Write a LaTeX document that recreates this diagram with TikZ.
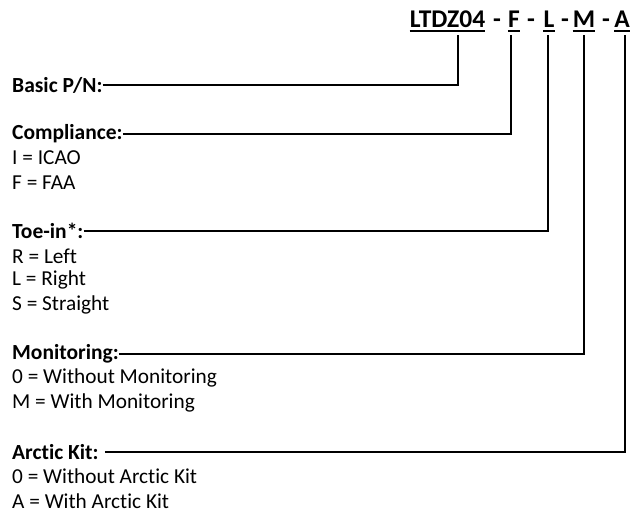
\documentclass[tikz,border=0pt]{standalone}
\usepackage{fontspec}
\setmainfont[Ligatures=NoCommon]{Carlito}
\usepackage{tikz}
\usetikzlibrary{positioning}

\begin{document}
\begin{tikzpicture}[x=1pt,y=-1pt,font=\fontsize{21.3}{25}\selectfont,
  part/.style={anchor=base,inner sep=0pt,font=\fontsize{25.5}{30}\selectfont\bfseries},
  lbl/.style={anchor=west,inner sep=0pt,font=\fontsize{21.5}{25}\selectfont\bfseries},
  opt/.style={anchor=west,inner sep=0pt},
  lead/.style={line width=2.7pt},
  uline/.style={line width=2pt}]
  \useasboundingbox (0,0) rectangle (633,515);

  % part number on top
  \node[part] (pn)  at (447.5,27) {LTDZ04};
  \node[part] (d1)  at (497,27) {-};
  \node[part] (cmp) at (514,27) {F};
  \node[part] (d2)  at (531,27) {-};
  \node[part] (toe) at (549,27) {L};
  \node[part] (d3)  at (565,27) {-};
  \node[part] (mon) at (584,27) {M};
  \node[part] (d4)  at (606,27) {-};
  \node[part] (arc) at (622,27) {A};
  \foreach \p in {pn,cmp,toe,mon,arc}
    \draw[uline] ([yshift=-4pt]\p.base west) -- ([yshift=-4pt]\p.base east);

  % fields and codes
  \node[lbl] (basic) at (12,85)  {Basic P/N:};
  \node[lbl] (comp)  at (12,134) {Compliance:};
  \node[opt] (c1)    at (12,158) {I = ICAO};
  \node[opt] (c2)    at (12,183) {F = FAA};
  \node[lbl] (toein) at (12,231) {Toe-in*:};
  \node[opt] (t1)    at (12,256) {R = Left};
  \node[opt] (t2)    at (12,280) {L = Right};
  \node[opt] (t3)    at (12,305) {S = Straight};
  \node[lbl] (moni)  at (12,354) {Monitoring:};
  \node[opt] (m1)    at (12,378) {0 = Without Monitoring};
  \node[opt] (m2)    at (12,403) {M = With Monitoring};
  \node[lbl] (arct)  at (12,452) {Arctic Kit:\hspace*{6pt}};
  \node[opt] (a1)    at (12,476) {0 = Without Arctic Kit};
  \node[opt] (a2)    at (12,501) {A = With Arctic Kit};

  % leader lines
  \draw[lead] (basic.east) -| ([xshift=10.5pt,yshift=-8pt]pn.base);
  \draw[lead] (comp.east)  -| ([xshift=-3pt,yshift=-8pt]cmp.base);
  \draw[lead] (toein.east) -| ([xshift=-1pt,yshift=-8pt]toe.base);
  \draw[lead] (moni.east)  -| ([yshift=-8pt]mon.base);
  \draw[lead] (arct.east)  -| ([xshift=3pt,yshift=-8pt]arc.base);
\end{tikzpicture}
\end{document}
